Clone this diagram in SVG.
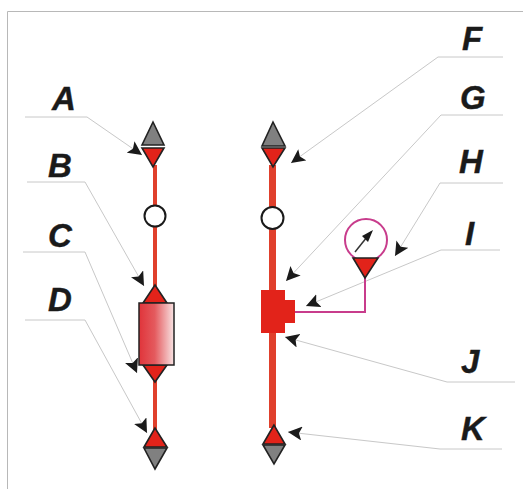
<svg xmlns="http://www.w3.org/2000/svg" width="523" height="489" viewBox="0 0 523 489">
<style>
.lab{font-family:"Liberation Sans",Arial,sans-serif;font-size:33px;font-weight:bold;font-style:italic;fill:#1a1a1a;stroke:#1a1a1a;stroke-width:0.4}
.lead{fill:none;stroke:#c8c8c8;stroke-width:1}
.gray{fill:#808080;stroke:#222;stroke-width:1.600}
.red{fill:#e2231a;stroke:#222;stroke-width:1.600}
.pipe{stroke:#e0402c;fill:none}
.circ{fill:#fff;stroke:#1a1a1a;stroke-width:2}
.pink{fill:none;stroke:#c83c8c;stroke-width:2}
</style>
<defs>
<linearGradient id="grad" x1="0" y1="0" x2="1" y2="0"><stop offset="0" stop-color="#e0343a"/><stop offset="0.45" stop-color="#e45a5e"/><stop offset="1" stop-color="#f8e4e4"/></linearGradient>
<marker id="ah" markerUnits="userSpaceOnUse" markerWidth="15" markerHeight="14" refX="14" refY="7" orient="auto"><path d="M0 0L14 7L0 14L3 7Z" fill="#1a1a1a"/></marker>
</defs>
<rect width="523" height="489" fill="#fff"/>
<path d="M7.500 489V11.500H523" fill="none" stroke="#b8b8b8" stroke-width="1"/>
<g id="connectors">
<path class="lead" marker-end="url(#ah)" d="M25 117H87L142 155"/>
<path class="lead" marker-end="url(#ah)" d="M27 182H85L144 286"/>
<path class="lead" marker-end="url(#ah)" d="M23 252H85L137 373"/>
<path class="lead" marker-end="url(#ah)" d="M25 320H85L147 433"/>
<path class="lead" marker-end="url(#ah)" d="M503 57H438L291 163"/>
<path class="lead" marker-end="url(#ah)" d="M503 115H441L286 281"/>
<path class="lead" marker-end="url(#ah)" d="M503 183H440L395 256"/>
<path class="lead" marker-end="url(#ah)" d="M500 250H441L306 306"/>
<path class="lead" marker-end="url(#ah)" d="M515 382H447L285 337"/>
<path class="lead" marker-end="url(#ah)" d="M502 449H440L288 432"/>
</g>
<g id="pipe-left"><path class="pipe" stroke-width="4" d="M155 165V430"/></g>
<g id="pipe-right"><path class="pipe" stroke-width="7" d="M272.500 165V428"/></g>
<g id="valve-top-left"><path class="gray" d="M153 122L142 145H164Z"/><path class="red" d="M142 148H164L153 167Z"/></g>
<g id="circle-left"><circle class="circ" cx="155" cy="216" r="10.500"/></g>
<g id="heater">
<path class="red" d="M155 285L143 303H167Z"/><path class="red" d="M143 365H167L155 382Z"/>
<rect x="139" y="303" width="35" height="62" fill="url(#grad)" stroke="#222" stroke-width="1.500"/>
</g>
<g id="valve-bottom-left"><path class="red" d="M155 428L144 447H167Z"/><path class="gray" d="M144 448H167L155 469Z"/></g>
<g id="valve-top-right"><path class="gray" d="M273 122L262 146H285Z"/><path class="red" d="M262 148H285L273 167Z"/></g>
<g id="circle-right"><circle class="circ" cx="272.500" cy="218" r="11"/></g>
<g id="pump"><path fill="#e2231a" d="M261 290H285V300H295V323H285V333H261Z"/></g>
<g id="gauge">
<path class="pink" d="M295 312H365V278"/>
<circle class="pink" cx="366" cy="240" r="21"/>
<path class="red" d="M353 258H378L365 278Z"/>
<path d="M355 252L371 232" stroke="#333" stroke-width="1.500" fill="none"/>
<path d="M373 230L362 236L368 242Z" fill="#1a1a1a"/>
</g>
<g id="valve-bottom-right"><path class="red" d="M274 425L263 444H285Z"/><path class="gray" d="M263 445H285L274 464Z"/></g>
<g id="labels">
<text class="lab" x="52" y="110">A</text>
<text class="lab" x="48" y="177">B</text>
<text class="lab" x="48" y="247">C</text>
<text class="lab" x="48" y="311">D</text>
<text class="lab" x="462" y="50">F</text>
<text class="lab" x="460" y="109">G</text>
<text class="lab" x="459" y="173">H</text>
<text class="lab" x="465" y="245">I</text>
<text class="lab" x="461" y="373">J</text>
<text class="lab" x="461" y="440">K</text>
</g>
</svg>
